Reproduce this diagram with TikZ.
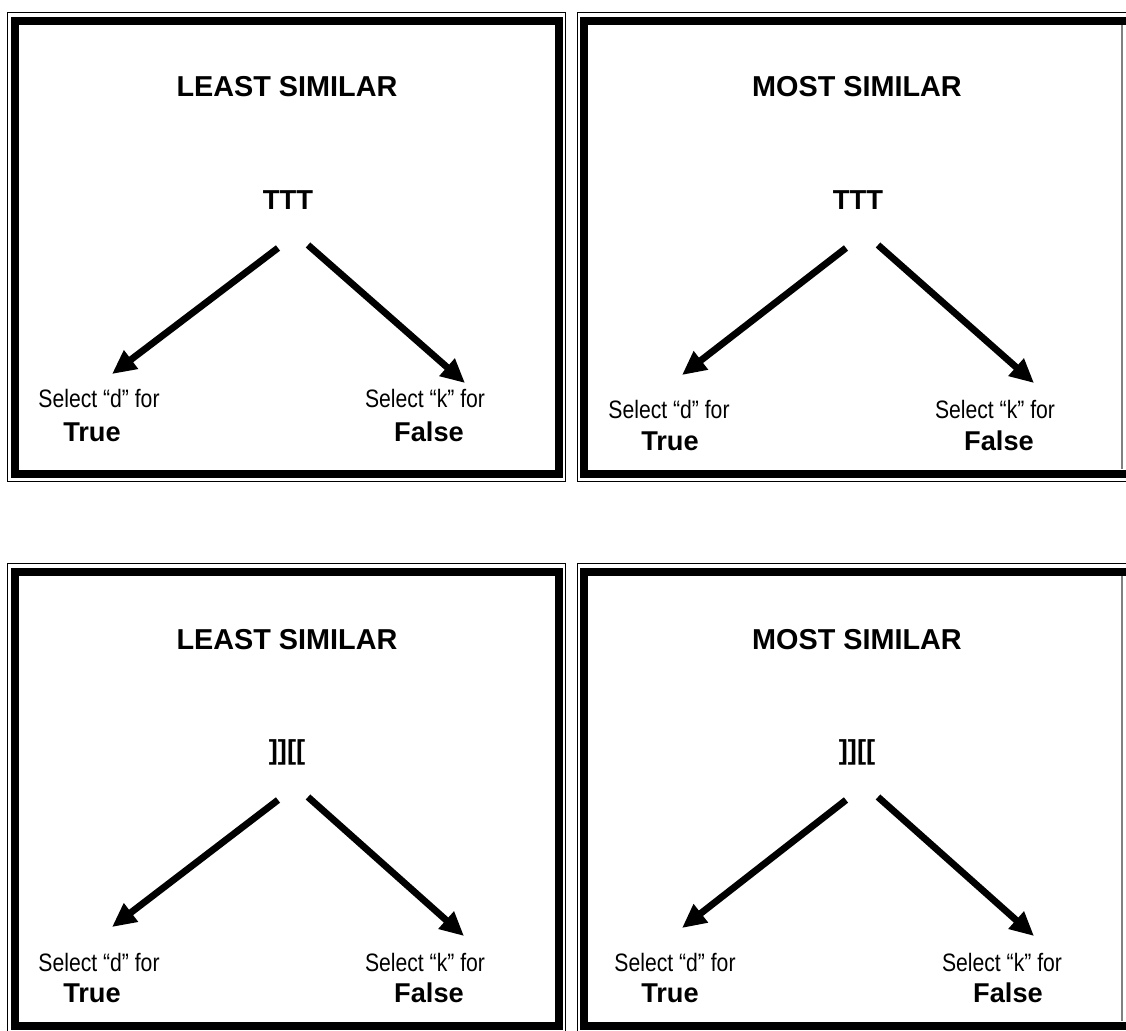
\documentclass[tikz,border=0pt]{standalone}
\usepackage{fontspec}
\setmainfont{Liberation Sans}
\newfontfamily\narrowsans[FakeStretch=0.84]{Liberation Sans}
\usetikzlibrary{arrows.meta}

\tikzset{
  heading/.style={font=\fontsize{14.4}{17}\selectfont\bfseries},
  stimulus/.style={font=\fontsize{13.7}{16}\selectfont\bfseries},
  hint/.style={font=\narrowsans\fontsize{12.6}{15}\selectfont},
  answer/.style={font=\fontsize{13.6}{16}\selectfont\bfseries},
  frameouter/.style={line width=0.75pt},
  frameinner/.style={line width=4pt},
  choice/.style={line width=3.4pt, -{Triangle[length=12pt,width=11pt]}},
}

\begin{document}
\begin{tikzpicture}[x=0.5pt, y=-0.5pt]
\useasboundingbox (0,0) rectangle (1126,1030);
\clip (0,0) rectangle (1126,1030);
\fill[white] (0,0) rectangle (1126,1030);

% frames
\draw[frameouter] (7.5,12.5) rectangle (565.5,481.5);
\draw[frameinner] (14.5,20.5) rectangle (559,473.5);
\draw[frameouter] (577.5,12.5) rectangle (1140,481.5);
\draw[frameinner] (583.5,20.5) rectangle (1132,473.5);
\draw[frameouter] (7.5,563.5) rectangle (565.5,1034);
\draw[frameinner] (14.5,571.5) rectangle (559,1026);
\draw[frameouter] (577.5,563.5) rectangle (1140,1034);
\draw[frameinner] (583.5,571.5) rectangle (1132,1026);
\fill[white] (1123,25) rectangle (1128,469);
\fill[white] (1123,576) rectangle (1128,1021);
\draw[gray, line width=0.6pt] (1122,25) -- (1122,469);
\draw[gray, line width=0.6pt] (1122,576) -- (1122,1021);

% top left
\node[heading] (h1) at (287,87) {LEAST SIMILAR};
\node[stimulus] (s1) at (288,200) {TTT};
\coordinate (l1) at (278,248);
\coordinate (r1) at (308,245);
\node[hint] (d1) at (99,398) {Select “d” for};
\node[answer] (t1) at (92,432) {True};
\node[hint] (k1) at (425,398) {Select “k” for};
\node[answer] (f1) at (429,432) {False};
\coordinate (dl1) at (112,374);
\coordinate (kr1) at (465,383);
\draw[choice] (l1) -- (dl1);
\draw[choice] (r1) -- (kr1);

% top right
\node[heading] (h2) at (857,87) {MOST SIMILAR};
\node[stimulus] (s2) at (858,200) {TTT};
\coordinate (l2) at (846,248);
\coordinate (r2) at (878,245);
\node[hint] (d2) at (669,409) {Select “d” for};
\node[answer] (t2) at (670,441) {True};
\node[hint] (k2) at (995,409) {Select “k” for};
\node[answer] (f2) at (999,441) {False};
\coordinate (dl2) at (682,375);
\coordinate (kr2) at (1034,383);
\draw[choice] (l2) -- (dl2);
\draw[choice] (r2) -- (kr2);

% bottom left
\node[heading] (h3) at (287,640) {LEAST SIMILAR};
\node[stimulus] (s3) at (287,752) {]][[};
\coordinate (l3) at (278,800);
\coordinate (r3) at (308,797);
\node[hint] (d3) at (99,962) {Select “d” for};
\node[answer] (t3) at (92,993) {True};
\node[hint] (k3) at (425,962) {Select “k” for};
\node[answer] (f3) at (429,993) {False};
\coordinate (dl3) at (112,927);
\coordinate (kr3) at (464,936);
\draw[choice] (l3) -- (dl3);
\draw[choice] (r3) -- (kr3);

% bottom right
\node[heading] (h4) at (857,640) {MOST SIMILAR};
\node[stimulus] (s4) at (857,752) {]][[};
\coordinate (l4) at (846,800);
\coordinate (r4) at (878,797);
\node[hint] (d4) at (675,962) {Select “d” for};
\node[answer] (t4) at (670,993) {True};
\node[hint] (k4) at (1002,962) {Select “k” for};
\node[answer] (f4) at (1008,993) {False};
\coordinate (dl4) at (682,928);
\coordinate (kr4) at (1034,936);
\draw[choice] (l4) -- (dl4);
\draw[choice] (r4) -- (kr4);
\end{tikzpicture}
\end{document}
